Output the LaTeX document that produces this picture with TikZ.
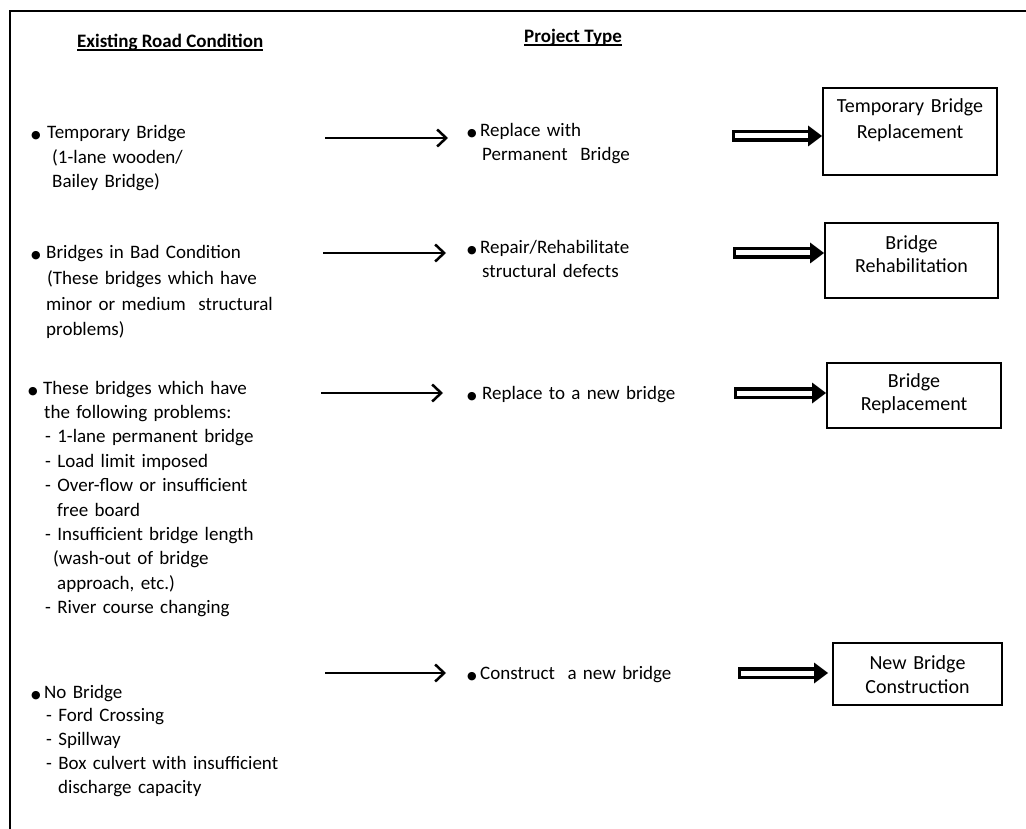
\documentclass[tikz,border=0pt]{standalone}
\usepackage{fontspec}
\setmainfont{Carlito}
\newfontfamily\dejavu{DejaVu Sans}
\usetikzlibrary{arrows.meta,calc}
\newcommand\bul{\makebox[0pt][l]{\fontsize{11}{11}\selectfont\dejavu ●}}
\newcommand\fatarrow[2]{%
  \fill ($(#1)+(0,-6)$) rectangle ($(#2)+(-12,6)$);
  \fill[white] ($(#1)+(3,-2.5)$) rectangle ($(#2)+(-11,2.5)$);
  \fill ($(#2)+(-14,-10.5)$) -- (#2) -- ($(#2)+(-14,10.5)$) -- cycle;}
\begin{document}
\begin{tikzpicture}[x=1pt,y=-1pt,
  lefttext/.style={inner sep=0pt, anchor=base west, align=left, text width=300pt,
     font=\fontsize{19}{#1}\selectfont},
  midtext/.style={inner sep=0pt, anchor=base west, align=left, text width=250pt,
     font=\fontsize{19}{#1}\selectfont},
  boxtext/.style={inner sep=0pt, anchor=base, align=center, text width=170pt,
     font=\fontsize{20}{#1}\selectfont},
  pbox/.style={draw, line width=2pt, inner sep=0pt},
  hdr/.style={inner sep=0pt, anchor=base west, font=\fontsize{19}{23}\selectfont\bfseries},
  uline/.style={line width=2pt},
  flow/.style={line width=2.5pt, -{Straight Barb[length=9pt,width=17pt]}},
  frame/.style={line width=2pt}
]
\useasboundingbox (0,0) rectangle (1026,829);
\fill[white] (0,0) rectangle (1026,829);

% frame (cropped)
\coordinate (fb) at (10,829);
\coordinate (fc) at (10,11);
\coordinate (fr) at (1026,11);
\draw[frame] (fb) -- (fc) -- (fr);

% headers
\node[hdr] (H1) at (77,48) {Existing Road Condition};
\draw[uline] ([yshift=-2.5pt]H1.base west) -- ([yshift=-2.5pt]H1.base east);
\node[hdr] (H2) at (524,43) {Project Type};
\draw[uline] ([yshift=-2.5pt]H2.base west) -- ([yshift=-2.5pt]H2.base east);

% left column
\node[lefttext=24.5] (L1) at (31,139) {\bul\hspace*{16pt}Temporary Bridge\\
\hspace*{21pt}(1-lane wooden/\\
\hspace*{21pt}Bailey Bridge)};

\node[lefttext=25.6] (L2) at (31,259) {\bul\hspace*{15pt}Bridges in Bad Condition\\
\hspace*{16pt}(These bridges which have\\
\hspace*{15pt}minor or medium\ \ structural\\
\hspace*{15pt}problems)};

\node[lefttext=24.4] (L3) at (28,394) {\bul\hspace*{15pt}These bridges which have\\
\hspace*{16pt}the following problems:\\
\hspace*{17pt}- 1-lane permanent bridge\\
\hspace*{17pt}- Load limit imposed\\
\hspace*{17pt}- Over-flow or insufficient\\
\hspace*{29pt}free board\\
\hspace*{17pt}- Insufficient bridge length\\
\hspace*{25pt}(wash-out of bridge\\
\hspace*{29pt}approach, etc.)\\
\hspace*{17pt}- River course changing};

\node[lefttext=23.8] (L4) at (31,698) {\bul\hspace*{13pt}No Bridge\\
\hspace*{15pt}- Ford Crossing\\
\hspace*{15pt}- Spillway\\
\hspace*{15pt}- Box culvert with insufficient\\
\hspace*{27pt}discharge capacity};

% middle column
\node[midtext=24] (M1) at (467,137) {\bul\hspace*{13pt}Replace with\\
\hspace*{15pt}Permanent\ \ Bridge};
\node[midtext=23.5] (M2) at (467,254) {\bul\hspace*{13pt}Repair/Rehabilitate\\
\hspace*{15pt}structural defects};
\node[midtext=24] (M3) at (467,399) {\bul\hspace*{15pt}Replace to a new bridge};
\node[midtext=24] (M4) at (467,679) {\bul\hspace*{13pt}Construct\ \ a new bridge};

% project boxes
\node[pbox, minimum width=174pt, minimum height=87pt] (B1) at (910,131.5) {};
\node[pbox, minimum width=173pt, minimum height=75pt] (B2) at (911.5,260.5) {};
\node[pbox, minimum width=174pt, minimum height=65pt] (B3) at (914,395.5) {};
\node[pbox, minimum width=169pt, minimum height=62pt] (B4) at (917.5,674) {};
\node[boxtext=26] (T1) at (910,113) {Temporary Bridge\\Replacement};
\node[boxtext=23] (T2) at (911.5,250) {Bridge\\Rehabilitation};
\node[boxtext=23] (T3) at (914,387) {Bridge\\Replacement};
\node[boxtext=24] (T4) at (917.5,669) {New Bridge\\Construction};

% thin arrows
\coordinate (a1s) at (325,138); \coordinate (a1e) at (448,138);
\coordinate (a2s) at (323,253); \coordinate (a2e) at (446,253);
\coordinate (a3s) at (321,393); \coordinate (a3e) at (443,393);
\coordinate (a4s) at (325,673); \coordinate (a4e) at (446,673);
\draw[flow] (a1s) -- (a1e);
\draw[flow] (a2s) -- (a2e);
\draw[flow] (a3s) -- (a3e);
\draw[flow] (a4s) -- (a4e);

% hollow block arrows
\coordinate (d1s) at (732,136); \coordinate (d1e) at (B1.west |- d1s);
\coordinate (d2s) at (733,253); \coordinate (d2e) at (B2.west |- d2s);
\coordinate (d3s) at (734,393); \coordinate (d3e) at (B3.west |- d3s);
\coordinate (d4s) at (738,673); \coordinate (d4e) at ([xshift=-4pt]B4.west |- d4s);
\fatarrow{d1s}{d1e}
\fatarrow{d2s}{d2e}
\fatarrow{d3s}{d3e}
\fatarrow{d4s}{d4e}
\end{tikzpicture}
\end{document}
